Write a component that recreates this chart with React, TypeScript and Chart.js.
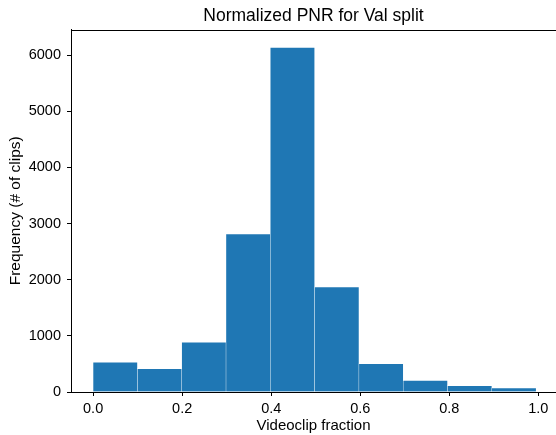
import React, { useEffect, useRef } from "react";
import { Chart, registerables } from "chart.js";

Chart.register(...registerables);

const chartTitle = "Normalized PNR for Val split";
const xLabel = "Videoclip fraction";
const yLabel = "Frequency (# of clips)";

const binLefts = [0.0, 0.0995, 0.199, 0.2985, 0.398, 0.4975, 0.597, 0.6965, 0.796, 0.8955];
const binWidth = 0.0995;
const counts = [536, 423, 893, 2821, 6143, 1875, 512, 214, 119, 77];

const xTicks = [0.0, 0.2, 0.4, 0.6, 0.8, 1.0];
const yTicks = [0, 1000, 2000, 3000, 4000, 5000, 6000];

const FONT = "'Liberation Sans', Arial, Helvetica, sans-serif";

export default function App() {
  const ref = useRef<HTMLCanvasElement | null>(null);

  useEffect(() => {
    if (!ref.current) return;
    const topLine = {
      id: "topLine",
      afterDraw(chart: any) {
        const { ctx, chartArea: a } = chart;
        ctx.save();
        ctx.strokeStyle = "#000";
        ctx.lineWidth = 1;
        ctx.beginPath();
        ctx.moveTo(a.left, Math.round(a.top) + 0.5);
        ctx.lineTo(a.right, Math.round(a.top) + 0.5);
        ctx.stroke();
        ctx.restore();
      },
    };
    const chart = new Chart(ref.current, {
      type: "bar",
      data: {
        datasets: [
          {
            data: binLefts.map((l, i) => ({ x: l + binWidth / 2, y: counts[i] })),
            backgroundColor: "#1f77b4",
            borderColor: "rgba(255,255,255,0.45)",
            borderWidth: { top: 1, left: 0.5, right: 0.5, bottom: 0 },
            barPercentage: 1,
            categoryPercentage: 1,
          } as any,
        ],
      },
      options: {
        responsive: false,
        animation: false,
        devicePixelRatio: 1,
        layout: { padding: 0 },
        plugins: {
          legend: { display: false },
          tooltip: { enabled: false },
          title: {
            display: true,
            text: chartTitle,
            fullSize: false,
            color: "#000",
            font: { family: FONT, size: 17.5, weight: "normal" },
            padding: { top: 6, bottom: 2.5 },
          },
        },
        scales: {
          x: {
            type: "linear",
            min: -0.0497,
            max: 1.0397,
            offset: false,
            afterBuildTicks: (s: any) => {
              s.ticks = xTicks.map((v) => ({ value: v }));
            },
            afterFit: (s: any) => {
              s.height = 43;
            },
            ticks: {
              callback: (v: any) => Number(v).toFixed(1),
              font: { family: FONT, size: 14.5 },
              color: "#000",
              padding: 4,
              maxRotation: 0,
              autoSkip: false,
            },
            grid: { offset: false, drawOnChartArea: false, drawTicks: true, tickLength: 4, color: "#000" },
            border: { display: true, color: "#000", width: 1 },
            title: {
              display: true,
              text: xLabel,
              color: "#000",
              font: { family: FONT, size: 15 },
              padding: { top: 0, bottom: 0 },
            },
          },
          y: {
            type: "linear",
            min: 0,
            max: 6455,
            afterBuildTicks: (s: any) => {
              s.ticks = yTicks.map((v) => ({ value: v }));
            },
            afterFit: (s: any) => {
              s.width = 71;
            },
            ticks: {
              callback: (v: any) => String(v),
              font: { family: FONT, size: 14.5 },
              color: "#000",
              padding: 6,
              autoSkip: false,
            },
            grid: { drawOnChartArea: false, drawTicks: true, tickLength: 4, color: "#000" },
            border: { display: true, color: "#000", width: 1 },
            title: {
              display: true,
              text: yLabel,
              color: "#000",
              font: { family: FONT, size: 15.5 },
              padding: { top: 6, bottom: 0 },
            },
          },
        },
      },
      plugins: [topLine],
    });
    return () => chart.destroy();
  }, []);

  return (
    <div style={{ position: "fixed", left: 0, top: 0, width: 556, height: 435, overflow: "hidden", background: "#fff" }}>
      <canvas ref={ref} width={556} height={435} style={{ display: "block" }} />
    </div>
  );
}
